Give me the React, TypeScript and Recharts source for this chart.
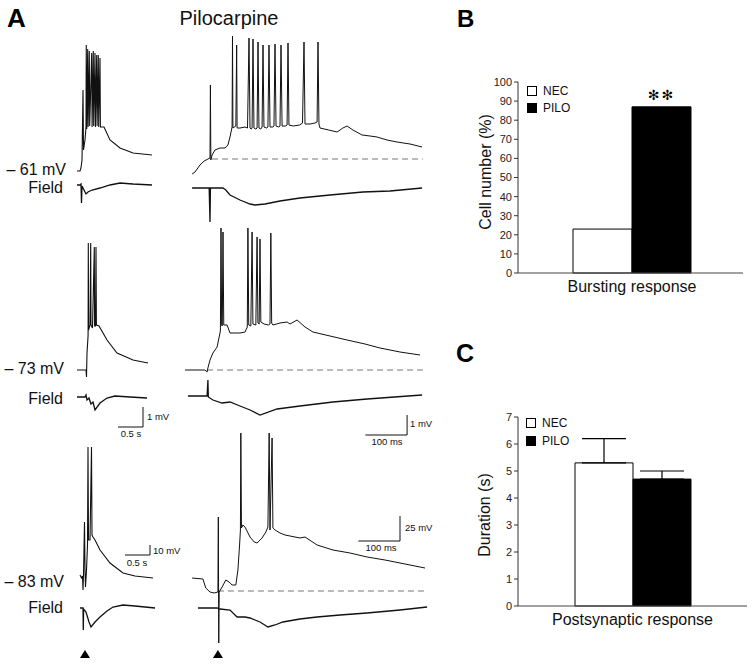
import React from 'react';
import { ComposedChart, Line, XAxis, YAxis, Scatter, BarChart, Bar, ErrorBar, Legend } from 'recharts';

type P = [number, number];
const FONT = '"Liberation Sans", Arial, Helvetica, sans-serif';

// ---------------- Panel A: traces (t, v) ----------------
// left column: t in s ; right column: t in ms ; Vm in mV ; field in mV
const row1LeftVm: P[] = [
  [0.04, 0], [0.10, 0], [0.12, 3], [0.14, 11], [0.16, 81], [0.17, 21], [0.20, 31], [0.22, 44],
  [0.225, 126], [0.235, 42], [0.254, 122], [0.262, 44], [0.286, 120], [0.294, 45], [0.334, 118], [0.342, 44],
  [0.366, 120], [0.374, 45], [0.40, 118], [0.408, 44], [0.434, 116], [0.442, 45], [0.466, 116], [0.474, 44],
  [0.50, 113], [0.508, 44], [0.58, 44], [0.70, 31], [0.90, 23], [1.16, 18], [1.54, 16],
];
const row1LeftField: P[] = [
  [0.04, 0], [0.10, 0], [0.12, 0.05], [0.13, -0.9], [0.14, -0.05], [0.18, -0.25], [0.22, -0.45], [0.26, -0.35],
  [0.34, -0.25], [0.50, -0.15], [0.70, 0], [0.90, 0.1], [1.16, 0.05], [1.54, 0],
];
const row1RightVm: P[] = [
  [17, -15], [24, -13], [36, -6], [46, -2], [55, 0], [60, 1], [61, 74], [62, -1], [65, 4], [72, 9], [84, 11], [96, 11],
  [103, 14], [108, 22], [113, 32], [114, 123], [115, 31], [122, 33], [124, 114], [125, 31], [132, 31], [144, 32],
  [150, 31], [153.6, 121], [156, 31], [159, 30],
  [161, 31], [163.2, 120], [165.5, 31], [170, 30],
  [173, 31], [175.2, 117], [177.5, 31], [182, 30],
  [185, 32], [187.2, 114], [189.5, 32], [196, 31],
  [199, 32], [201.6, 114], [204, 32], [211, 32],
  [213.5, 33], [216, 115], [218.5, 33], [225, 32],
  [228, 33], [230.4, 114], [233, 33], [241, 33],
  [245, 34], [247.2, 116], [249.5, 34], [260, 33], [275, 34], [282, 36],
  [285.6, 117], [288, 35], [300, 35], [312, 36], [317, 37], [319.2, 117], [321.5, 35],
  [324, 31], [345, 29], [365, 27], [379, 31], [389, 33], [403, 29], [425, 24], [444, 23], [461, 22], [485, 19],
  [509, 17], [540, 15], [569, 12],
];
const row1RightBase: P[] = [[65, 0], [571, 0]];
const row1RightField: P[] = [
  [17, 0], [58, 0], [60, -1.7], [61, 0], [91, 0], [98, -0.1], [108, -0.35], [132, -0.6], [156, -0.8], [168, -0.85],
  [192, -0.8], [228, -0.65], [276, -0.5], [348, -0.35], [427, -0.2], [492, -0.15], [569, 0],
];

const row2LeftVm: P[] = [
  [0.04, 0], [0.22, 0], [0.23, -7], [0.24, 17], [0.26, 33], [0.262, 35], [0.266, 127], [0.272, 40], [0.30, 45],
  [0.314, 127], [0.32, 45], [0.35, 42], [0.386, 123], [0.392, 44], [0.41, 44], [0.42, 123], [0.428, 45],
  [0.48, 44], [0.64, 30], [0.84, 17], [1.16, 10], [1.46, 7],
];
const row2LeftField: P[] = [
  [0.04, 0], [0.20, 0], [0.22, 0.1], [0.24, -0.15], [0.28, -0.05], [0.32, -0.35], [0.36, -0.25], [0.40, -0.65],
  [0.50, -0.3], [0.64, -0.05], [0.80, 0.05], [1.10, 0], [1.44, -0.05],
];
const row2LeftScale: P[] = [[0.86, -1.5], [1.36, -1.5], [1.36, -0.5]];
const row2RightVm: P[] = [
  [0, 0], [48, 0], [53, -2], [55, 2], [60, 10], [67, 17], [77, 23], [84, 37], [85, 40], [86.4, 142], [88, 45],
  [89.5, 44], [91.2, 138], [93, 45], [101, 45], [108, 37], [132, 37], [144, 38], [149.5, 43], [151, 142], [153, 45],
  [158, 44], [161, 138], [163, 46], [170, 45], [173, 133], [175, 47], [178, 46], [180, 131], [182, 48], [190, 46],
  [200, 45], [204, 46], [206, 137], [208, 47], [211, 45], [228, 47], [245, 48], [252, 46], [269, 50], [288, 43],
  [307, 38], [348, 34], [389, 30], [432, 26], [468, 22], [516, 18], [564, 15],
];
const row2RightBase: P[] = [[53, 0], [571, 0]];
const row2RightField: P[] = [
  [7, 0], [53, 0], [55, 0.8], [56, -0.05], [67, -0.2], [89, -0.35], [108, -0.3], [132, -0.5], [156, -0.7],
  [180, -0.95], [221, -0.65], [276, -0.5], [355, -0.3], [437, -0.15], [569, 0.05],
];
const row2RightScale: P[] = [[433, -1.95], [533, -1.95], [533, -0.95]];

const row3LeftVm: P[] = [
  [0.10, 0], [0.13, -3], [0.15, -1], [0.16, -15], [0.17, 0], [0.19, 53], [0.20, 5], [0.21, -12], [0.23, 5],
  [0.25, 30], [0.26, 128], [0.27, 35], [0.30, 35], [0.33, 128], [0.34, 40], [0.36, 38], [0.40, 35], [0.50, 25],
  [0.70, 12], [0.96, 2], [1.20, -1], [1.56, -3],
];
const row3LeftField: P[] = [
  [0.10, 0], [0.16, 0], [0.166, -1.1], [0.172, -0.05], [0.22, -0.2], [0.28, -0.7], [0.32, -0.95], [0.40, -0.7],
  [0.50, -0.45], [0.64, -0.15], [0.76, 0.05], [0.96, 0.15], [1.20, 0.1], [1.60, 0],
];
const row3LeftScale: P[] = [[1.0, 20], [1.5, 20], [1.5, 30]];
const row3LeftStim: P[] = [[0.2, -79]];
const row3RightVm: P[] = [
  [17, 13], [43, 12], [46, 8], [50, 3], [60, -1], [70, -2], [79, -1], [80, 74], [81, -52], [82, -1], [89, 4],
  [98, 11], [106, 9], [113, 6], [122, 6], [127, 21], [131, 46], [133, 61], [134, 158], [135.5, 63], [139, 66],
  [144, 64], [156, 54], [166, 49], [173, 48], [185, 53], [194, 59], [199, 64], [202, 158], [204, 61], [209, 153],
  [211, 63], [216, 61], [228, 58], [240, 56], [252, 55], [276, 53], [288, 54], [317, 46], [355, 41], [396, 38],
  [437, 34], [480, 31], [516, 28], [576, 23],
];
const row3RightBase: P[] = [[79, 0], [583, 0]];
const row3RightField: P[] = [
  [31, 0], [77, 0], [84, -0.05], [108, -0.1], [125, -0.45], [144, -0.45], [156, -0.5], [180, -0.7], [199, -0.95],
  [216, -0.85], [235, -0.7], [276, -0.55], [317, -0.45], [372, -0.35], [437, -0.25], [516, -0.1], [581, 0.05],
];
const row3RightScale: P[] = [[416, 50], [516, 50], [516, 75]];
const row3RightStim: P[] = [[79, -63]];

// ---------------- Panels B and C ----------------
const categoriesB = ['Bursting response'];
const necB = [23];
const piloB = [87];
const ticksB = [0, 10, 20, 30, 40, 50, 60, 70, 80, 90, 100];

const categoriesC = ['Postsynaptic response'];
const necC = [5.3];
const piloC = [4.7];
const necErrC = [0.9];
const piloErrC = [0.3];
const ticksC = [0, 1, 2, 3, 4, 5, 6, 7];

const groups = ['NEC', 'PILO'];
const groupFill = ['#ffffff', '#000000'];

const pts = (a: P[]) => a.map(([t, v]) => ({ t, v }));

type Series = { data: P[]; axis: 'vm' | 'field'; color?: string; w?: number; dash?: string };

const Tri = (props: any) => {
  const { cx, cy } = props;
  return <polygon points={`${cx - 5},${cy + 4} ${cx + 5},${cy + 4} ${cx},${cy - 4}`} fill="#000" />;
};

const Trace = ({ left, top, width, height, tPerPx, vmBase, fieldBase, series, stim }: {
  left: number; top: number; width: number; height: number; tPerPx: number; vmBase: number; fieldBase: number;
  series: Series[]; stim?: P[];
}) => {
  const xDom = [0, width * tPerPx];
  const vmDom = [vmBase - (top + height), vmBase - top];
  const fDom = [(fieldBase - (top + height)) / 20, (fieldBase - top) / 20];
  return (
    <div style={{ position: 'absolute', left, top, width, height }}>
      <ComposedChart width={width} height={height} margin={{ top: 0, right: 0, bottom: 0, left: 0 }}>
        <XAxis type="number" dataKey="t" domain={xDom} hide allowDataOverflow />
        <YAxis yAxisId="vm" type="number" domain={vmDom} hide allowDataOverflow />
        <YAxis yAxisId="field" type="number" domain={fDom} hide allowDataOverflow />
        {series.map((s, i) => (
          <Line key={i} data={pts(s.data)} dataKey="v" yAxisId={s.axis} type="linear"
            stroke={s.color || '#111'} strokeWidth={s.w || 1} strokeDasharray={s.dash}
            dot={false} activeDot={false} isAnimationActive={false} />
        ))}
        {stim && <Scatter data={pts(stim)} dataKey="v" yAxisId="vm" shape={Tri} isAnimationActive={false} />}
      </ComposedChart>
    </div>
  );
};

const legendContent = (rowH: number) => () => (
  <div style={{ fontFamily: FONT, fontSize: 12, color: '#111' }}>
    {groups.map((g, i) => (
      <div key={g} style={{ display: 'flex', alignItems: 'center', height: rowH }}>
        <div style={{ width: 10, height: 10, boxSizing: 'border-box', border: '1px solid #000', background: groupFill[i], marginRight: 6 }} />
        <span>{g}</span>
      </div>
    ))}
  </div>
);

const Stars = (props: any) => {
  const { x, y, width } = props;
  return (
    <text x={x + width / 2} y={y - 12} textAnchor="middle" dominantBaseline="central" fontSize={14}
      letterSpacing={2} fontFamily='"DejaVu Sans", sans-serif' fill="#000">✻✻</text>
  );
};

const dataB = categoriesB.map((c, i) => ({ name: c, NEC: necB[i], PILO: piloB[i] }));
const dataC = categoriesC.map((c, i) => ({
  name: c, NEC: necC[i], PILO: piloC[i], NECerr: [0, necErrC[i]], PILOerr: [0, piloErrC[i]],
}));

const T = (p: any) => <text fontFamily={FONT} fill="#111" {...p} />;

export default function App() {
  const L = { left: 75, width: 95, tPerPx: 0.02 };
  const R = { left: 185, width: 245, tPerPx: 2.4 };
  const gray = '#777';
  return (
    <div style={{ position: 'absolute', left: 0, top: 0, width: 754, height: 665, background: '#fff', overflow: 'hidden' }}>
      {/* Row 1 */}
      <Trace {...L} top={25} height={210} vmBase={171} fieldBase={185}
        series={[{ data: row1LeftVm, axis: 'vm', w: 1.1 }, { data: row1LeftField, axis: 'field', w: 1.3 }]} />
      <Trace {...R} top={25} height={210} vmBase={159} fieldBase={188}
        series={[{ data: row1RightBase, axis: 'vm', color: gray, w: 1, dash: '6 4' },
          { data: row1RightVm, axis: 'vm', w: 1 }, { data: row1RightField, axis: 'field', w: 1.3 }]} />
      {/* Row 2 */}
      <Trace {...L} top={215} height={230} vmBase={370} fieldBase={397}
        series={[{ data: row2LeftVm, axis: 'vm', w: 1.1 }, { data: row2LeftField, axis: 'field', w: 1.3 },
          { data: row2LeftScale, axis: 'field', w: 1 }]} />
      <Trace {...R} top={215} height={230} vmBase={370} fieldBase={396}
        series={[{ data: row2RightBase, axis: 'vm', color: gray, w: 1, dash: '6 4' },
          { data: row2RightVm, axis: 'vm', w: 1 }, { data: row2RightField, axis: 'field', w: 1.3 },
          { data: row2RightScale, axis: 'field', w: 1 }]} />
      {/* Row 3 */}
      <Trace {...L} top={425} height={240} vmBase={575} fieldBase={608} stim={row3LeftStim}
        series={[{ data: row3LeftVm, axis: 'vm', w: 1.1 }, { data: row3LeftField, axis: 'field', w: 1.3 },
          { data: row3LeftScale, axis: 'vm', w: 1 }]} />
      <Trace {...R} top={425} height={240} vmBase={591} fieldBase={608} stim={row3RightStim}
        series={[{ data: row3RightBase, axis: 'vm', color: gray, w: 1, dash: '6 4' },
          { data: row3RightVm, axis: 'vm', w: 1 }, { data: row3RightField, axis: 'field', w: 1.3 },
          { data: row3RightScale, axis: 'vm', w: 1 }]} />

      {/* Panel B */}
      <div style={{ position: 'absolute', left: 440, top: 60 }}>
        <BarChart width={314} height={250} data={dataB} margin={{ top: 22, right: 11, bottom: 7, left: 38 }}
          barGap={0} barSize={59}>
          <XAxis dataKey="name" height={30} tickLine={false} axisLine={{ stroke: '#444' }}
            tick={{ fontSize: 16, fill: '#111', fontFamily: FONT }} padding={{ left: 3, right: 0 }} />
          <YAxis width={40} domain={[0, 100]} ticks={ticksB} interval={0} tickSize={4} tickMargin={2}
            tick={{ fontSize: 11, fill: '#222', fontFamily: FONT }} axisLine={{ stroke: '#333' }} tickLine={{ stroke: '#333' }} />
          <Legend layout="vertical" align="center" verticalAlign="middle"
            wrapperStyle={{ position: 'absolute', left: 87, top: 22, width: 80 }} content={legendContent(17)} />
          <Bar dataKey="NEC" fill="#fff" stroke="#000" strokeWidth={1} isAnimationActive={false} />
          <Bar dataKey="PILO" fill="#000" stroke="#000" strokeWidth={1} isAnimationActive={false} label={Stars} />
        </BarChart>
      </div>

      {/* Panel C */}
      <div style={{ position: 'absolute', left: 440, top: 395 }}>
        <BarChart width={314} height={250} data={dataC} margin={{ top: 22, right: 7, bottom: 9, left: 38 }}
          barGap={0} barSize={58}>
          <XAxis dataKey="name" height={30} tickLine={false} axisLine={{ stroke: '#444' }}
            tick={{ fontSize: 16, fill: '#111', fontFamily: FONT }} />
          <YAxis width={40} domain={[0, 7]} ticks={ticksC} interval={0} tickSize={4} tickMargin={2}
            tick={{ fontSize: 11, fill: '#222', fontFamily: FONT }} axisLine={{ stroke: '#333' }} tickLine={{ stroke: '#333' }} />
          <Legend layout="vertical" align="center" verticalAlign="middle"
            wrapperStyle={{ position: 'absolute', left: 86, top: 19, width: 80 }} content={legendContent(18)} />
          <Bar dataKey="NEC" fill="#fff" stroke="#000" strokeWidth={1} isAnimationActive={false}>
            <ErrorBar dataKey="NECerr" direction="y" width={22} stroke="#000" strokeWidth={1.2} />
          </Bar>
          <Bar dataKey="PILO" fill="#000" stroke="#000" strokeWidth={1} isAnimationActive={false}>
            <ErrorBar dataKey="PILOerr" direction="y" width={22} stroke="#000" strokeWidth={1.2} />
          </Bar>
        </BarChart>
      </div>

      {/* Text overlay */}
      <svg width={754} height={665} style={{ position: 'absolute', left: 0, top: 0, pointerEvents: 'none' }}>
        <T x={7} y={27} fontSize={26} fontWeight="bold" fill="#000">A</T>
        <T x={229} y={25} fontSize={20} textAnchor="middle">Pilocarpine</T>
        <T x={457} y={27} fontSize={24} fontWeight="bold" fill="#000">B</T>
        <T x={456} y={362} fontSize={25} fontWeight="bold" fill="#000">C</T>

        <T x={66} y={175} fontSize={16} textAnchor="end">– 61 mV</T>
        <T x={63} y={193} fontSize={16} textAnchor="end">Field</T>
        <T x={64} y={374} fontSize={16} textAnchor="end">– 73 mV</T>
        <T x={63} y={404} fontSize={16} textAnchor="end">Field</T>
        <T x={64} y={587} fontSize={16} textAnchor="end">– 83 mV</T>
        <T x={63} y={613} fontSize={16} textAnchor="end">Field</T>

        <T x={147} y={420} fontSize={9.5}>1 mV</T>
        <T x={131} y={437} fontSize={9.5} textAnchor="middle">0.5 s</T>
        <T x={410} y={427} fontSize={9.5}>1 mV</T>
        <T x={387} y={445} fontSize={9.5} textAnchor="middle">100 ms</T>
        <T x={153} y={554} fontSize={9.5}>10 mV</T>
        <T x={137} y={566} fontSize={9.5} textAnchor="middle">0.5 s</T>
        <T x={405} y={531} fontSize={9.5}>25 mV</T>
        <T x={381} y={551} fontSize={9.5} textAnchor="middle">100 ms</T>

        <T x={485} y={172} fontSize={16} textAnchor="middle" dominantBaseline="central"
          transform="rotate(-90 485 172)">Cell number (%)</T>
        <T x={484} y={515} fontSize={16} textAnchor="middle" dominantBaseline="central"
          transform="rotate(-90 484 515)">Duration (s)</T>
      </svg>
    </div>
  );
}
